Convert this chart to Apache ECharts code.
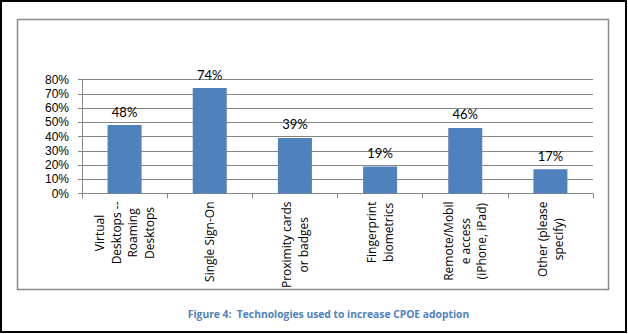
<!DOCTYPE html>
<html>
<head>
<meta charset="utf-8">
<script src="https://cdn.jsdelivr.net/npm/echarts@6/dist/echarts.min.js"></script>
<style>
html,body{margin:0;padding:0;background:#fff;}
#c{width:628px;height:334px;}
</style>
</head>
<body>
<div id="c"></div>
<script>
const categories = [
  "Virtual\nDesktops --\nRoaming\nDesktops",
  "Single Sign-On",
  "Proximity cards\nor badges",
  "Fingerprint\nbiometrics",
  "Remote/Mobil\ne access\n(iPhone, iPad)",
  "Other (please\nspecify)"
];
const values = [48, 74, 39, 19, 46, 17];
const yTicks = { min: 0, max: 80, interval: 10 };
const figureTitle = "Figure 4:  Technologies used to increase CPOE adoption";

const FONT = "Lato, 'Liberation Sans', sans-serif";
const YFONT = "'Liberation Sans', Arial, sans-serif";
const XFONT = "'Open Sans', Lato, sans-serif";
const rich = {};
categories.forEach((c, i) => {
  rich['c' + i] = { align: 'center', fontFamily: XFONT, fontSize: 12, lineHeight: 16.5, color: '#000' };
});

const chart = echarts.init(document.getElementById('c'), null, { renderer: 'svg' });
chart.setOption({
  animation: false,
  backgroundColor: '#fff',
  graphic: [
    { type: 'rect', shape: { x: 1, y: 1, width: 625, height: 331 }, style: { fill: 'none', stroke: '#000', lineWidth: 2 }, silent: true },
    { type: 'rect', shape: { x: 17.5, y: 19.5, width: 591, height: 270 }, style: { fill: 'none', stroke: '#8a8a8a', lineWidth: 1.5 }, silent: true },
    { type: 'text', x: 328.5, y: 314, silent: true,
      style: { text: figureTitle, align: 'center', verticalAlign: 'middle', fill: '#4F81BD',
               font: "bold 10.3px 'Open Sans', Lato, sans-serif" } }
  ],
  grid: { left: 82, right: 35, top: 79.5, bottom: 140.5, containLabel: false },
  xAxis: {
    type: 'category',
    data: categories,
    axisLine: { lineStyle: { color: '#868686', width: 1 } },
    axisTick: { show: true, alignWithLabel: false, length: 5, lineStyle: { color: '#868686' } },
    axisLabel: {
      interval: 0,
      rotate: 90,
      margin: 8,
      formatter: function (v, idx) {
        return v.split('\n').map(l => '{c' + idx + '|' + l + '}').join('\n');
      },
      rich: rich
    }
  },
  yAxis: {
    type: 'value',
    min: yTicks.min, max: yTicks.max, interval: yTicks.interval,
    axisLine: { show: true, lineStyle: { color: '#868686', width: 1 } },
    axisTick: { show: true, length: 4, lineStyle: { color: '#868686' } },
    splitLine: { show: true, lineStyle: { color: '#868686', width: 1 } },
    axisLabel: { formatter: '{value}%', margin: 13, color: '#000', fontFamily: YFONT, fontSize: 12, lineHeight: 13 }
  },
  series: [{
    type: 'bar',
    data: values,
    barWidth: 34,
    itemStyle: { color: '#4F81BD' },
    label: {
      show: true, position: 'top', distance: 7,
      formatter: '{c}%', color: '#000', fontFamily: FONT, fontSize: 13
    }
  }]
});
</script>
</body>
</html>
